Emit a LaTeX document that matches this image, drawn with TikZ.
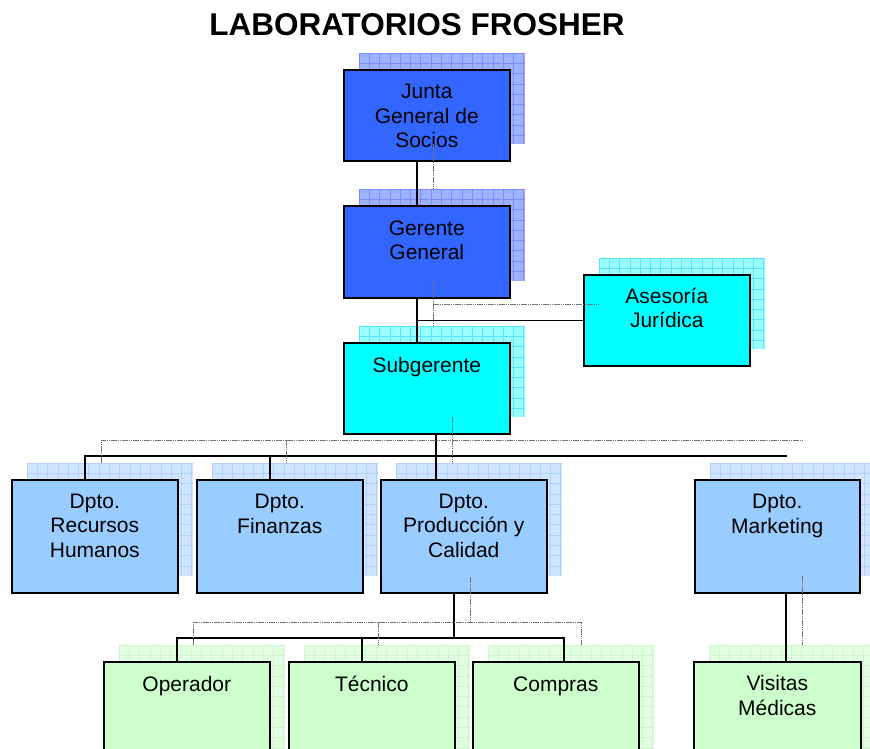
\documentclass[tikz,border=0pt]{standalone}
\usepackage{fontspec}
\setmainfont{Liberation Sans}
\definecolor{cBlue}{RGB}{51,102,255}
\definecolor{cCyan}{RGB}{0,255,255}
\definecolor{cDept}{RGB}{153,204,255}
\definecolor{cGreen}{RGB}{204,255,204}
\definecolor{sBlue}{RGB}{160,178,255}
\definecolor{gBlue}{RGB}{115,140,255}
\definecolor{sCyan}{RGB}{155,255,255}
\definecolor{gCyan}{RGB}{85,230,255}
\definecolor{sDept}{RGB}{208,229,255}
\definecolor{gDept}{RGB}{175,210,255}
\definecolor{sGreen}{RGB}{226,255,226}
\definecolor{gGreen}{RGB}{203,245,203}
\newcommand\ShadowAt[6]{%
  \begin{scope}[shift={(#1,#2)}]
    \fill[#5] (0,0) rectangle (#3,#4);
    \begin{scope}
      \clip (0,0) rectangle (#3,#4);
      \draw[#6, line width=0.7pt, step=10.3pt] (0,0) grid (#3,#4);
    \end{scope}
  \end{scope}}
\tikzset{
  box/.style={draw=black, line width=1.6pt, minimum width=166pt, inner sep=0pt, anchor=north west},
  lbl/.style={font=\fontsize{21}{24.2}\selectfont, align=center, anchor=base, inner sep=0pt},
  link/.style={line width=1.6pt, black},
  slink/.style={line width=0.9pt, black!55, dash pattern=on 1.6pt off 0.6pt},
}
\begin{document}
\begin{tikzpicture}[x=1pt,y=-1pt]
\useasboundingbox (0,0) rectangle (870,749);
\clip (0,0) rectangle (870,749);
\fill[white] (0,0) rectangle (870,749);

% title
\node[font=\fontsize{31.5}{36}\selectfont\bfseries, anchor=base, inner sep=0pt] (title) at (417,36) {LABORATORIOS FROSHER};

% shadows
\ShadowAt{359}{53}{166}{91}{sBlue}{gBlue}
\ShadowAt{359}{189}{166}{92}{sBlue}{gBlue}
\ShadowAt{599}{258}{166}{91}{sCyan}{gCyan}
\ShadowAt{359}{326}{166}{91}{sCyan}{gCyan}
\ShadowAt{27}{463}{166}{113}{sDept}{gDept}
\ShadowAt{212}{463}{166}{113}{sDept}{gDept}
\ShadowAt{396}{463}{166}{113}{sDept}{gDept}
\ShadowAt{710}{463}{166}{113}{sDept}{gDept}
\ShadowAt{119}{645}{166}{113}{sGreen}{gGreen}
\ShadowAt{304}{645}{166}{113}{sGreen}{gGreen}
\ShadowAt{488}{645}{166}{113}{sGreen}{gGreen}
\ShadowAt{709}{645}{166}{113}{sGreen}{gGreen}

% boxes
\node[box, fill=cBlue, minimum height=91pt] (junta) at (343,69) {};
\node[box, fill=cBlue, minimum height=92pt] (gerente) at (343,205) {};
\node[box, fill=cCyan, minimum height=91pt] (asesoria) at (583,274) {};
\node[box, fill=cCyan, minimum height=91pt] (sub) at (343,342) {};
\node[box, fill=cDept, minimum height=113pt] (rh) at (11,479) {};
\node[box, fill=cDept, minimum height=113pt] (fin) at (196,479) {};
\node[box, fill=cDept, minimum height=113pt] (prod) at (380,479) {};
\node[box, fill=cDept, minimum height=113pt, minimum width=165pt] (mkt) at (694,479) {};
\node[box, fill=cGreen, minimum height=113pt] (op) at (103,661) {};
\node[box, fill=cGreen, minimum height=113pt] (tec) at (288,661) {};
\node[box, fill=cGreen, minimum height=113pt] (com) at (472,661) {};
\node[box, fill=cGreen, minimum height=113pt, minimum width=167pt] (vis) at (693,661) {};

% labels (base anchor = baseline of last line)
\node[lbl] (junta-t) at ([yshift=-78.4pt]junta.north) {Junta\\General de\\Socios};
\node[lbl] (gerente-t) at ([yshift=-54.2pt]gerente.north) {Gerente\\General};
\node[lbl] (asesoria-t) at ([yshift=-53.7pt]asesoria.north) {Asesoría\\Jurídica};
\node[lbl] (sub-t) at ([yshift=-30pt]sub.north) {Subgerente};
\node[lbl] (rh-t) at ([yshift=-78pt]rh.north) {Dpto.\\Recursos\\Humanos};
\node[lbl] (fin-t) at ([yshift=-54pt]fin.north) {Dpto.\\Finanzas};
\node[lbl] (prod-t) at ([yshift=-78pt]prod.north) {Dpto.\\Producción y\\Calidad};
\node[lbl] (mkt-t) at ([yshift=-54pt]mkt.north) {Dpto.\\Marketing};
\node[lbl] (op-t) at ([yshift=-30pt]op.north) {Operador};
\node[lbl] (tec-t) at ([yshift=-30pt]tec.north) {Técnico};
\node[lbl] (com-t) at ([yshift=-30pt]com.north) {Compras};
\node[lbl] (vis-t) at ([yshift=-54pt]vis.north) {Visitas\\Médicas};

% connectors
\coordinate (xA) at (417,0);
\coordinate (xB) at (436,0);
\coordinate (dRH) at (85,456);
\coordinate (dFin) at (270,456);
\coordinate (busDend) at (787,456);
\coordinate (xC) at (454,638);
\coordinate (dOp) at (177,638);
\coordinate (dTec) at (362,638);
\coordinate (dCom) at (564,638);
\coordinate (xM) at (786,0);
\draw[link] (junta.south -| xA) -- (gerente.north -| xA);
\draw[link] (gerente.south -| xA) -- (sub.north -| xA);
\draw[link] (asesoria.west) -- (asesoria.west -| xA);
\draw[link] (sub.south -| xB) -- (prod.north -| xB);
\draw[link] (rh.north -| dRH) -- (dRH) -- (busDend);
\draw[link] (fin.north -| dFin) -- (dFin);
\draw[link] (prod.south -| xC) -- (xC);
\draw[link] (op.north -| dOp) -- (dOp) -- (dCom) -- (com.north -| dCom);
\draw[link] (tec.north -| dTec) -- (dTec);
\draw[link] (mkt.south -| xM) -- (vis.north -| xM);

% connector shadows
\draw[slink] (433,144) -- (433,189);
\draw[slink] (433,281) -- (433,326);
\draw[slink] (433,304) -- (599,304);
\draw[slink] (452,417) -- (452,463);
\draw[slink] (101,463) -- (101,440) -- (803,440);
\draw[slink] (286,440) -- (286,463);
\draw[slink] (470,577) -- (470,622);
\draw[slink] (193,645) -- (193,622) -- (581,622) -- (581,645);
\draw[slink] (378,622) -- (378,645);
\draw[slink] (802,576) -- (802,645);
\end{tikzpicture}
\end{document}
